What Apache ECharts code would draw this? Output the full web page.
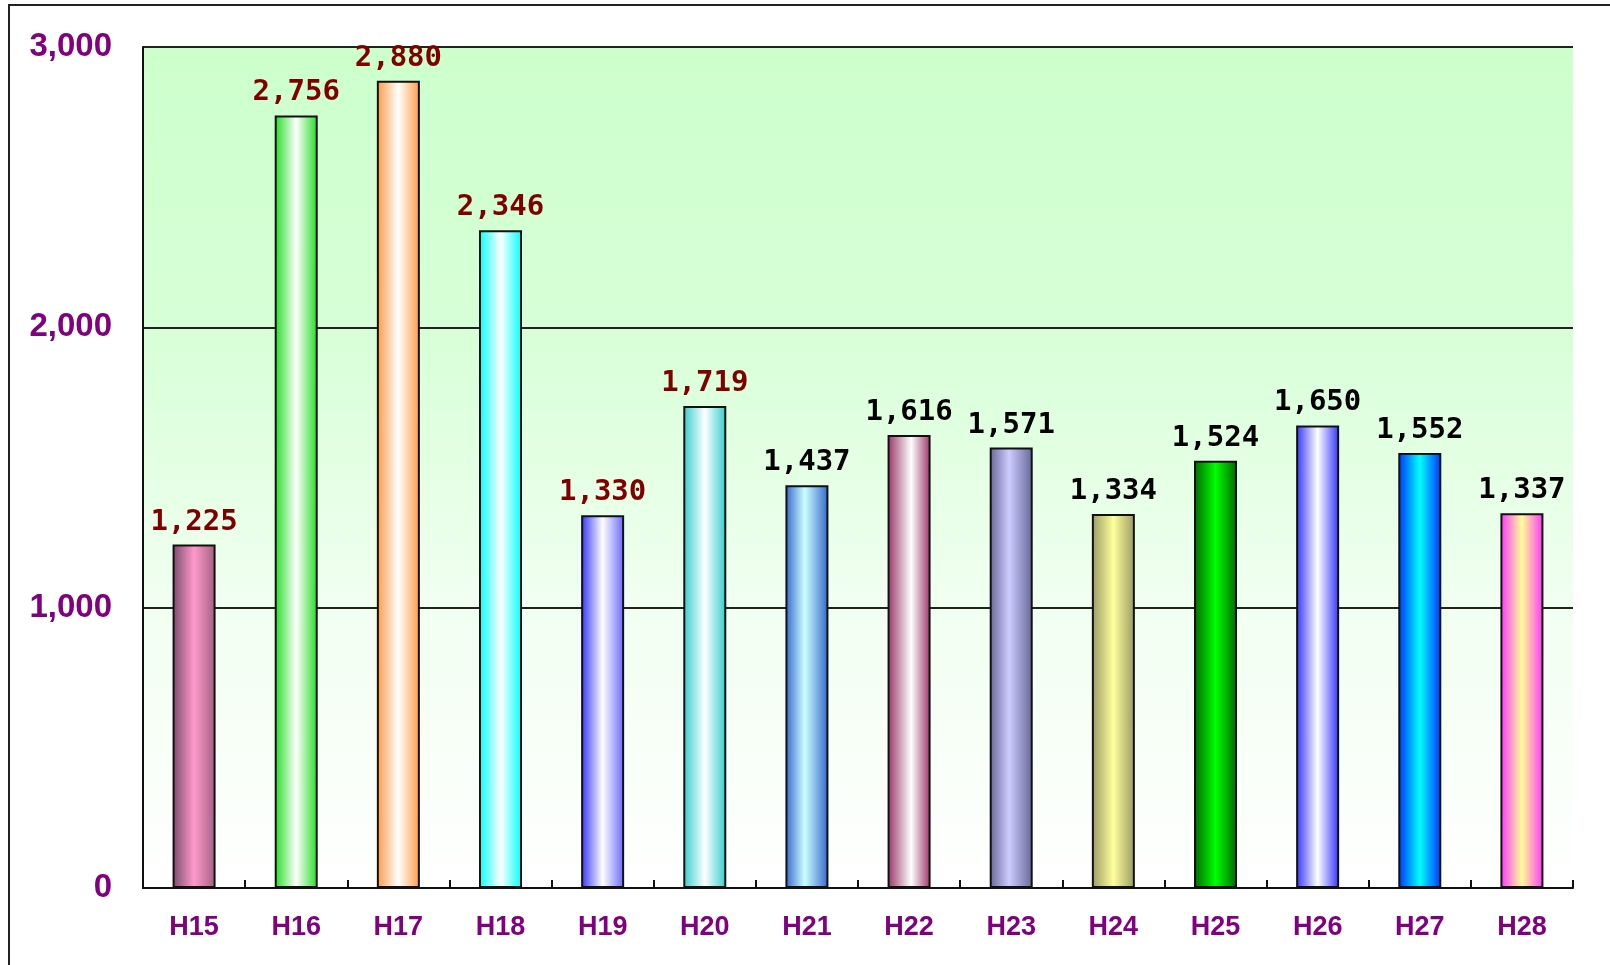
<!DOCTYPE html>
<html>
<head>
<meta charset="utf-8">
<script src="https://cdn.jsdelivr.net/npm/echarts@6/dist/echarts.min.js"></script>
<style>
html,body{margin:0;padding:0;background:#fff;}
#chart{width:1610px;height:965px;}
</style>
</head>
<body>
<div id="chart"></div>
<script>
const categories = ['H15','H16','H17','H18','H19','H20','H21','H22','H23','H24','H25','H26','H27','H28'];
const values = [1225, 2756, 2880, 2346, 1330, 1719, 1437, 1616, 1571, 1334, 1524, 1650, 1552, 1337];
const yTicks = [0, 1000, 2000, 3000];

// styles (edge colour, centre colour, centre position)
const barStyles = [
  ['#7a4a68','#ff99cc',0.5,'#a0607f'],
  ['#22dd22','#ffffff',0.5,'#22dd22'],
  ['#ff9944','#ffffff',0.5,'#ff9944'],
  ['#00ffff','#ffffff',0.5,'#00ffff'],
  ['#3333ff','#ffffff',0.5,'#6666ff'],
  ['#33cccc','#ffffff',0.5,'#33cccc'],
  ['#3366cc','#ccffff',0.45,'#3366cc'],
  ['#993366','#ffffff',0.55,'#993366'],
  ['#666699','#ccccff',0.45,'#666699'],
  ['#999966','#ffff99',0.5,'#999966'],
  ['#006600','#00ff00',0.5,'#006600'],
  ['#3333ff','#ffffff',0.5,'#3333ff'],
  ['#0033ff','#00ffff',0.5,'#0033ff'],
  ['#ff33ff','#ffff99',0.5,'#ff33ff']
];
const labelColors = ['#800000','#800000','#800000','#800000','#800000','#800000','#000','#000','#000','#000','#000','#000','#000','#000'];

function grad(s){
  return new echarts.graphic.LinearGradient(0,0,1,0,[
    {offset:0,color:s[0]},
    {offset:s[2],color:s[1]},
    {offset:1,color:s[3]}
  ]);
}

const chart = echarts.init(document.getElementById('chart'));
const option = {
  animation:false,
  graphic:[{
    type:'rect', z:-10, silent:true,
    shape:{x:9,y:5,width:1800,height:1200},
    style:{fill:'none',stroke:'#222',lineWidth:2}
  }],
  grid:{
    left:143, top:47, width:1430, height:841,
    show:true, borderWidth:0,
    backgroundColor:new echarts.graphic.LinearGradient(0,0,0,1,[
      {offset:0,color:'#ccffcc'},
      {offset:0.35,color:'#d8ffd8'},
      {offset:0.65,color:'#f0fff0'},
      {offset:1,color:'#ffffff'}
    ])
  },
  xAxis:{
    type:'category', data:categories,
    axisLine:{show:true,lineStyle:{color:'#111',width:2}},
    axisTick:{show:true,inside:true,length:8,lineStyle:{color:'#111',width:2}},
    axisLabel:{color:'#800080',fontFamily:'Liberation Sans',fontWeight:'bold',fontSize:27,margin:26}
  },
  yAxis:{
    type:'value', min:yTicks[0], max:yTicks[yTicks.length-1], interval:1000,
    axisLine:{show:true,lineStyle:{color:'#111',width:2}},
    axisTick:{show:false},
    splitLine:{show:true,lineStyle:{color:'#222',width:2}},
    axisLabel:{color:'#800080',fontFamily:'Liberation Sans',fontWeight:'bold',fontSize:33,margin:31,
      formatter:v=>v.toLocaleString('en-US')}
  },
  series:[{
    type:'bar', barWidth:43,
    data:values.map((v,i)=>({
      value:v,
      itemStyle:{color:grad(barStyles[i]),borderColor:'#111',borderWidth:2},
      label:{color:labelColors[i]}
    })),
    label:{show:true,position:'top',distance:8,fontFamily:'DejaVu Sans Mono',fontWeight:'bold',fontSize:29,
      formatter:p=>p.value.toLocaleString('en-US')}
  }]
};
chart.setOption(option);
</script>
</body>
</html>
